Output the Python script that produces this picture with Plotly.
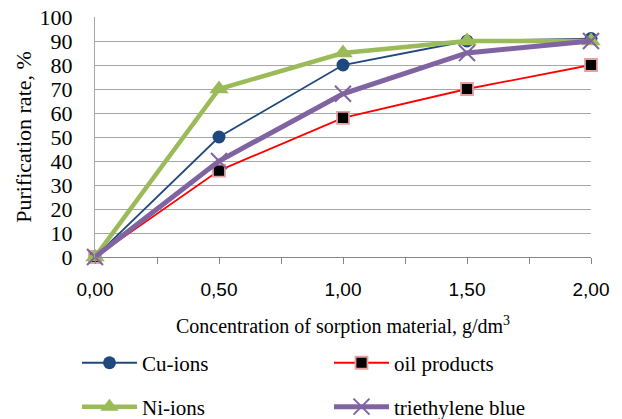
import plotly.graph_objects as go

concentration = [0.0, 0.5, 1.0, 1.5, 2.0]
cu_ions = [0, 50, 80, 90, 91]
oil_products = [0, 36, 58, 70, 80]
ni_ions = [0, 70, 85, 90, 90]
triethylene_blue = [0, 40, 68, 85, 90]
x_tick_vals = [0.0, 0.5, 1.0, 1.5, 2.0]
x_tick_text = ["0,00", "0,50", "1,00", "1,50", "2,00"]
y_tick_vals = list(range(0, 101, 10))

fig = go.Figure()
fig.add_trace(go.Scatter(
    x=concentration, y=cu_ions, name="Cu-ions", mode="lines+markers",
    line=dict(color="#1F497D", width=1.8),
    marker=dict(symbol="circle", size=13, color="#1F497D"),
    cliponaxis=False, legend="legend"))
fig.add_trace(go.Scatter(
    x=concentration, y=oil_products, name="oil products", mode="lines+markers",
    line=dict(color="#FF0000", width=1.8),
    marker=dict(symbol="square", size=12, color="#000000",
                line=dict(color="#E6A0A0", width=1.8)),
    cliponaxis=False, legend="legend"))
fig.add_trace(go.Scatter(
    x=concentration, y=ni_ions, name="Ni-ions", mode="lines+markers",
    line=dict(color="#9BBB59", width=4.5),
    marker=dict(symbol="triangle-up", size=17, color="#9BBB59"),
    cliponaxis=False, legend="legend2"))
fig.add_trace(go.Scatter(
    x=concentration, y=triethylene_blue, name="triethylene blue", mode="lines+markers",
    line=dict(color="#8064A2", width=5),
    marker=dict(symbol="x-thin", size=16, color="#8064A2",
                line=dict(color="#8064A2", width=2)),
    cliponaxis=False, legend="legend2"))

serif = "Liberation Serif"
legend_common = dict(orientation="h", xanchor="left", yanchor="middle",
                     entrywidth=182, entrywidthmode="pixels", itemwidth=55,
                     font=dict(family=serif, size=21, color="#000000"),
                     bgcolor="rgba(0,0,0,0)", traceorder="normal")
fig.update_layout(
    width=622, height=445,
    margin=dict(l=87, r=39, t=9, b=196),
    paper_bgcolor="white", plot_bgcolor="white",
    showlegend=True,
    xaxis=dict(
        range=[0, 2], tickvals=x_tick_vals, ticktext=x_tick_text,
        ticks="outside", ticklen=6, tickcolor="#868686",
        minor=dict(dtick=0.25, ticks="outside", ticklen=6, tickcolor="#868686", showgrid=False),
        showline=True, linecolor="#868686", linewidth=1,
        showgrid=False, zeroline=False,
        tickfont=dict(family="Liberation Sans", size=19, color="#000000"),
        ticklabelstandoff=9,
        title=dict(text="Concentration of sorption material, g/dm<sup>3</sup>",
                   font=dict(family=serif, size=20, color="#000000"), standoff=20),
        automargin=False,
    ),
    yaxis=dict(
        range=[0, 100], tickvals=y_tick_vals,
        ticks="", showline=True, linecolor="#A6A6A6", linewidth=1,
        showgrid=True, gridcolor="#A6A6A6", gridwidth=1, zeroline=False,
        tickfont=dict(family=serif, size=22, color="#000000"),
        ticklabelstandoff=17, ticklabeloverflow="allow",
        title=dict(text="Purification rate, %",
                   font=dict(family=serif, size=22, color="#000000"), standoff=1),
        automargin=False,
    ),
    legend=dict(x=-0.0363, y=-0.442, **legend_common),
    legend2=dict(x=-0.0363, y=-0.625, **legend_common),
)

fig.write_html("out.html")
